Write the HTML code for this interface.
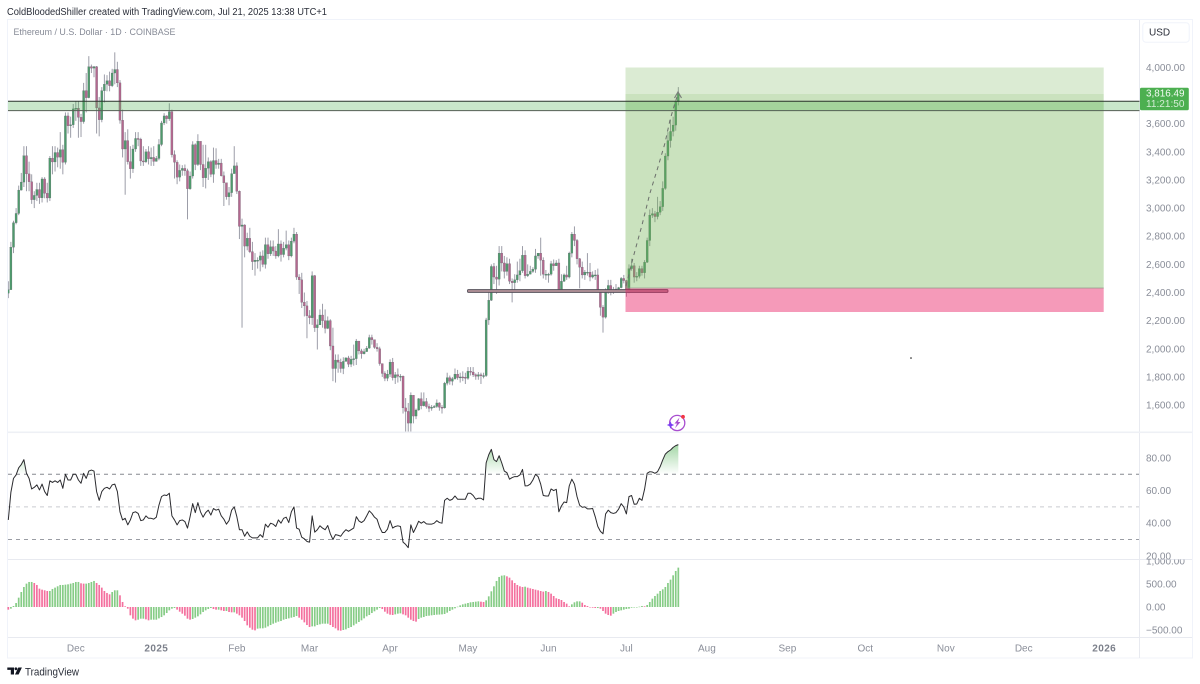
<!DOCTYPE html>
<html lang="en">
<head>
<meta charset="utf-8">
<title>Ethereum / U.S. Dollar chart</title>
<style>
html,body{margin:0;padding:0;background:#fff;width:1200px;height:684px;overflow:hidden}
svg{display:block}
text{font-family:"Liberation Sans",sans-serif}
</style>
</head>
<body>
<svg id="chart" xmlns="http://www.w3.org/2000/svg" width="1200" height="684" viewBox="0 0 1200 684">
  <defs>
    <clipPath id="clip-main"><rect x="8" y="20" width="1131.5" height="411.5"/></clipPath>
    <clipPath id="clip-rsi-axis"><rect x="1140" y="433" width="52" height="126.5"/></clipPath>
    <clipPath id="clip-hist-axis"><rect x="1140" y="559.5" width="52" height="78"/></clipPath>
    <clipPath id="clip-overbought"><rect x="8" y="433" width="1131" height="41.3"/></clipPath>
    <linearGradient id="rsi-fill" gradientUnits="userSpaceOnUse" x1="0" y1="445" x2="0" y2="474.3">
      <stop offset="0" stop-color="#4caf50" stop-opacity="0.5"/>
      <stop offset="1" stop-color="#4caf50" stop-opacity="0"/>
    </linearGradient>
  </defs>

  <text x="7" y="15" font-size="10" fill="#2a2e39" textLength="320" lengthAdjust="spacingAndGlyphs">ColdBloodedShiller created with TradingView.com, Jul 21, 2025 13:38 UTC+1</text>

  <rect x="7.5" y="19.5" width="1185" height="638.5" fill="#fff" stroke="#f0f3fa" stroke-width="1"/>
  <line x1="1139.5" y1="20" x2="1139.5" y2="658" stroke="#e8eaf0"/>
  <rect x="8" y="431.5" width="1184" height="1.6" fill="#eef0f5"/>
  <line x1="8" y1="559.5" x2="1192" y2="559.5" stroke="#e8eaf0"/>
  <line x1="8" y1="637.5" x2="1192" y2="637.5" stroke="#e8eaf0"/>

  <text x="13.5" y="35" font-size="9.5" fill="#868a96" textLength="162" lengthAdjust="spacingAndGlyphs">Ethereum / U.S. Dollar · 1D · COINBASE</text>

  <g id="candles" clip-path="url(#clip-main)"></g>

  <rect x="467.5" y="289.6" width="200.5" height="2.8" rx="1" fill="#a98b92" stroke="#55505a" stroke-width="0.9"/>

  <g>
    <rect x="625.5" y="67.5" width="478.2" height="26.5" fill="#6eaf50" fill-opacity="0.25"/>
    <rect x="625.5" y="94" width="478.2" height="193.8" fill="#6eaf50" fill-opacity="0.37"/>
    <rect x="625.5" y="288" width="478.2" height="24" fill="#e91e63" fill-opacity="0.45"/>
    <line x1="625.5" y1="288" x2="1103.7" y2="288" stroke="#8d9a84" stroke-width="0.8"/>
  </g>

  <g>
    <rect x="8" y="101.3" width="1131.5" height="9.3" fill="#4caf50" fill-opacity="0.3"/>
    <line x1="8" y1="101.3" x2="1139.5" y2="101.3" stroke="#2b332c" stroke-width="1"/>
    <line x1="8" y1="110.6" x2="1139.5" y2="110.6" stroke="#555f56" stroke-width="1"/>
  </g>

  <polyline points="626,286 633,258 642,225 650,193 658,167 665,143 670,120 675,103 678,94" fill="none" stroke="#6b6f6b" stroke-width="1" stroke-dasharray="4 4"/>
  <polyline points="674.5,98 678,92 681.5,98" fill="none" stroke="#7b807b" stroke-width="1.2"/>
  <circle cx="911" cy="358" r="0.8" fill="#111"/>

  <g>
    <circle cx="677.2" cy="423" r="7.6" fill="none" stroke="#a94fd0" stroke-width="1.3"/>
    <polygon points="679.5,417.5 674.5,423.5 677,423.5 675,428.2 680.5,422 678,422" fill="#a94fd0"/>
    <polygon points="670.5,421.3 671.6,423.9 674.2,425 671.6,426.1 670.5,428.7 669.4,426.1 666.8,425 669.4,423.9" fill="#7b3ff2"/>
    <circle cx="683" cy="416.8" r="1.9" fill="#f23645"/>
  </g>

  <g id="rsi-levels"></g>
  <path id="rsi-area" fill="url(#rsi-fill)" clip-path="url(#clip-overbought)"/>
  <path id="rsi-line" fill="none" stroke="#2b2b2f" stroke-width="1" stroke-linejoin="round"/>

  <g id="hist-bars"></g>

  <g id="price-axis"></g>
  <g id="rsi-axis" clip-path="url(#clip-rsi-axis)"></g>
  <g id="hist-axis" clip-path="url(#clip-hist-axis)"></g>
  <g id="time-axis"></g>

  <g>
    <rect x="1142.8" y="22.8" width="46.4" height="19.4" rx="3" fill="#fff" stroke="#f0f3fa"/>
    <text x="1149" y="35.6" font-size="10" fill="#2a2e39">USD</text>
  </g>

  <g>
    <rect x="1140" y="87.7" width="48.8" height="22.6" rx="1.5" fill="#4caf50"/>
    <text id="last-price" x="1146" y="96.6" font-size="10" fill="#f4fbf4" textLength="38.5" lengthAdjust="spacingAndGlyphs">3,816.49</text>
    <text x="1146" y="107" font-size="10" fill="#d4edd5" textLength="38.5" lengthAdjust="spacingAndGlyphs">11:21:50</text>
  </g>

  <g>
    <path d="M7.3 667.5H14V674.5H10.8V669.9H7.3Z" fill="#131722"/>
    <circle cx="15.9" cy="668.8" r="1.4" fill="#131722"/>
    <polygon points="18.3,667.5 21.9,667.5 18.6,674.5 15,674.5" fill="#131722"/>
    <text x="25" y="675.5" font-size="11" fill="#2a2e39" textLength="54" lengthAdjust="spacingAndGlyphs">TradingView</text>
  </g>
</svg>

<script>
// Daily bars, 5 Nov 2024 to 21 Jul 2025. One line per month.
const firstOpen = 2395;
const closes = [
  2420,2722,2896,2962,3128,3185,3372,3243,3187,3060,3090,3132,3073,3207,3105,3072,3355,3328,3395,3362,3415,3325,3655,3585,3592,3705,
  3710,3645,3615,3835,3785,4005,3995,4005,3712,3628,3835,3880,3905,3870,3960,3985,3890,3625,3420,3480,3330,3280,3420,3495,3490,3335,3330,3400,3350,3360,3332,
  3353,3452,3605,3655,3635,3685,3380,3325,3220,3268,3282,3265,3137,3228,3450,3310,3475,3310,3215,3283,3330,3240,3338,3310,3320,3230,3180,3080,3110,3245,3300,
  3120,2870,2880,2730,2785,2690,2620,2630,2630,2660,2600,2740,2675,2725,2695,2660,2745,2670,2715,2740,2660,2765,2815,2510,2490,2330,2305,2235,
  2220,2520,2150,2170,2240,2200,2145,2200,2020,1860,1920,1905,1860,1910,1935,1890,1925,1930,2055,1985,1965,1980,2005,2080,2065,2010,2000,1895,1825,1790,1820,
  1905,1795,1815,1805,1805,1580,1555,1472,1670,1522,1565,1645,1595,1625,1590,1577,1585,1590,1615,1585,1580,1755,1795,1770,1787,1820,1795,1800,1798,1790,
  1840,1835,1815,1805,1815,1810,1810,2205,2345,2585,2510,2495,2680,2610,2550,2605,2480,2470,2490,2525,2555,2665,2520,2530,2550,2565,2660,2680,2630,2530,2530,
  2530,2605,2590,2610,2415,2480,2525,2510,2680,2815,2770,2640,2580,2525,2545,2545,2510,2525,2525,2410,2295,2225,2415,2450,2420,2415,2425,2435,2500,2485,
  2405,2570,2590,2510,2515,2570,2540,2615,2770,2950,2960,2940,2970,3010,3140,3370,3480,3545,3590,3755,3816
];
const highs = [
  2480,2760,2910,3000,3160,3250,3440,3440,3330,3240,3120,3180,3180,3220,3220,3180,3370,3440,3440,3430,3540,3450,3680,3680,3650,3740,
  3760,3760,3670,3890,3960,4080,4020,4010,4010,3790,3860,3950,3945,3970,3990,4107,4040,3910,3700,3540,3560,3440,3450,3540,3540,3500,3440,3420,3440,3430,3440,
  3370,3490,3620,3675,3660,3745,3700,3410,3340,3310,3305,3310,3280,3260,3475,3460,3525,3450,3450,3450,3360,3340,3430,3425,3350,3350,3260,3170,3150,3280,3440,
  3325,3125,2925,2885,2825,2860,2760,2680,2650,2690,2700,2790,2790,2770,2770,2730,2850,2770,2760,2840,2770,2790,2860,2830,2530,2540,2400,2340,
  2275,2550,2525,2210,2280,2320,2280,2230,2210,2150,1960,1960,1930,1940,1940,1950,1950,2030,2070,2000,2000,2000,2020,2100,2100,2060,2040,2015,1895,1840,1850,
  1925,1935,1835,1860,1820,1810,1650,1615,1690,1670,1575,1650,1690,1690,1650,1610,1600,1600,1640,1620,1600,1765,1830,1810,1800,1860,1850,1830,1840,1830,
  1870,1870,1870,1825,1835,1830,1830,2220,2400,2600,2610,2590,2730,2730,2660,2650,2640,2500,2530,2620,2640,2730,2700,2600,2590,2580,2710,2680,2790,2650,2560,
  2540,2625,2635,2630,2640,2530,2535,2590,2690,2830,2870,2780,2645,2620,2560,2680,2610,2550,2560,2570,2420,2310,2430,2490,2490,2440,2460,2440,2510,2525,
  2490,2600,2640,2610,2545,2590,2590,2630,2790,2990,3000,2980,3080,3050,3190,3390,3540,3630,3650,3760,3860
];
const lows = [
  2360,2420,2680,2885,2950,3125,3150,3120,3120,3030,3000,3050,3030,3040,3070,3040,3050,3240,3260,3290,3280,3240,3310,3530,3500,3570,
  3620,3500,3505,3600,3680,3780,3960,3930,3530,3510,3610,3750,3830,3830,3860,3880,3860,3600,3360,3095,3310,3210,3250,3400,3440,3300,3300,3320,3310,3300,3300,
  3330,3340,3440,3590,3600,3620,3360,3210,3170,3190,3230,3230,2920,3130,3210,3270,3300,3270,3150,3140,3200,3220,3180,3280,3280,3225,3015,3060,3020,3080,3260,
  3100,2780,2150,2650,2700,2680,2560,2520,2570,2550,2580,2570,2640,2660,2660,2640,2650,2620,2650,2700,2630,2650,2750,2490,2390,2290,2230,2075,
  2175,2170,2120,1995,2170,2150,2110,2140,1990,1770,1760,1830,1830,1820,1910,1870,1870,1880,1885,1960,1930,1960,1980,2000,2030,2000,1980,1880,1800,1770,1770,
  1800,1775,1750,1760,1770,1540,1410,1385,1410,1470,1500,1560,1570,1590,1575,1550,1560,1580,1580,1560,1540,1575,1740,1745,1740,1780,1780,1760,1770,1750,
  1780,1810,1800,1780,1780,1750,1790,1800,2170,2340,2460,2390,2450,2550,2500,2520,2460,2330,2400,2470,2480,2540,2500,2510,2530,2540,2540,2640,2520,2500,2490,
  2470,2520,2555,2590,2400,2400,2475,2490,2500,2650,2730,2600,2430,2500,2490,2520,2480,2500,2490,2400,2235,2115,2215,2390,2380,2390,2400,2410,2430,2465,
  2370,2395,2555,2470,2480,2500,2520,2500,2610,2730,2930,2900,2920,2950,2980,3130,3340,3430,3510,3550,3730
];
const rsiValues = [
  42,59,67.5,69.6,74,76,79,70.6,67.5,61,62,63.5,60.4,64,59.4,57,66,65,66,65,66.5,61.4,70,66.5,66.5,70,
  70,66.5,64.5,70.6,67.5,72,72.6,72,59.4,54,59.4,61.4,62,61,63.5,64,59.4,47,42,43,39,42,46.5,47,46,41.6,42,44.5,43,43,42.5,
  43.7,51,56.3,57.3,57,58.4,44.5,42,39,41.6,42,41,37,44,52,46.5,52.6,47,43.7,46.5,48,45,49,48,48.6,44.5,42.5,39.4,41.6,48,50,
  44,36,36,32,34.7,32,31,31,31,33,31.4,39.4,37.5,40,39.4,38,42,40,43,43.7,40.4,47,50,37,36.3,31.4,30.4,28.8,
  28.4,44.5,34.5,36,38.4,37,36,38.6,33.5,30,33,32.6,32,34.3,36,35,36,37,44,41.4,40.4,41.6,44.5,47.6,46,43.7,42.4,37.5,34.3,34.3,36.3,
  41.6,37,38,38.4,38,28.4,27,25,39,34.3,37.5,41.2,40,41,39.6,39.4,39.4,40,41.6,40.4,40,54,55.3,54,54.7,56.7,54.7,54.7,54.7,54.7,
  58.4,58.4,57,54.7,55.3,55.3,54.3,77,82,85.3,79,77.8,81.4,77,72,71,67,68,68.6,68.6,69.6,73,62.9,63,64,66.5,70,68.6,64,57,56.7,
  56.7,61,60,60.8,47,50.6,53,52.6,62.9,67,64,56.3,51,49.8,50,48.8,48.8,49,44,38,35,33.5,45.7,48,46.5,46,46.5,48.6,52,50,
  45.7,56.3,57,51.6,51.8,55.3,54,60.8,70.6,71.6,71.4,70.6,71.6,74.7,78.8,82.4,83.9,84.9,86.5,87.6,88.2
];
const histValues = [
  -58,-36,22,87,203,326,435,508,544,544,522,479,399,377,363,348,348,392,421,450,479,479,486,493,508,522,
  544,544,515,508,508,522,544,566,522,479,421,348,305,276,326,363,363,254,109,15,-36,-181,-254,-290,-276,-254,-254,-268,-290,-276,-276,
  -276,-247,-218,-181,-131,-73,-36,-22,-58,-102,-145,-189,-254,-276,-261,-232,-203,-160,-109,-73,-44,-22,-44,-58,-58,-73,-87,-87,-109,-116,-116,
  -145,-181,-232,-305,-399,-450,-493,-508,-471,-464,-464,-450,-421,-392,-363,-341,-319,-305,-276,-261,-247,-232,-218,-196,-232,-276,-334,-392,
  -435,-421,-421,-392,-377,-363,-363,-363,-392,-435,-464,-508,-515,-500,-486,-457,-435,-399,-363,-326,-290,-247,-203,-174,-131,-94,-58,-22,-44,-102,-145,
  -167,-174,-160,-145,-138,-160,-181,-232,-276,-305,-319,-261,-232,-218,-196,-189,-181,-174,-167,-165,-160,-152,-123,-87,-58,-29,7,36,58,73,
  87,102,109,116,123,116,109,145,232,341,450,566,653,682,689,667,638,580,522,479,450,435,442,421,406,392,377,363,348,334,348,
  326,290,239,189,174,152,109,73,15,58,102,123,123,94,44,22,0,-15,-22,-22,-36,-87,-145,-174,-189,-145,-109,-87,-73,-58,
  -44,-36,-15,-7,0,7,22,15,44,109,181,239,290,348,384,435,522,595,689,783,856
];
const priceTicks = [4000,3600,3400,3200,3000,2800,2600,2400,2200,2000,1800,1600];
const rsiTicks = [80,60,40,20];
const rsiLevels = [70,50,30];
const rsiLevelColors = ['#85888f','#c9cbd0','#9a9da4'];
const histTicks = [1000,500,0,-500];
const timeLabels = ['Dec','2025','Feb','Mar','Apr','May','Jun','Jul','Aug','Sep','Oct','Nov','Dec','2026'];
const timeOffsets = [26,57,88,116,147,177,208,238,269,300,330,361,391,422];
const timeBold = ['2025','2026'];

const SVGNS = 'http://www.w3.org/2000/svg';
function xAt(i){ return 8.3 + 2.597 * i; }
function priceY(p){ return 67.4 + (4000 - p) * 0.1407; }
function rsiY(v){ return 458 + (80 - v) * 1.63; }
function histY(v){ return 607 - v * 0.046; }
function fmt(v){
  const s = Math.abs(v).toFixed(2).replace(/\B(?=(\d{3})+(?!\d))/g, ',');
  return (v < 0 ? '\u2212' : '') + s;
}
function make(tag, attrs, parent){
  const el = document.createElementNS(SVGNS, tag);
  for (const k in attrs) el.setAttribute(k, attrs[k]);
  parent.appendChild(el);
  return el;
}

// Candles
const candleGroup = document.getElementById('candles');
closes.forEach(function(c, i){
  const o = i === 0 ? firstOpen : closes[i - 1];
  const up = c >= o;
  const x = xAt(i);
  const wick = make('line', {x1:x, x2:x, y1:priceY(highs[i]), y2:priceY(lows[i]), stroke:'#9c9da8', 'stroke-width':1}, candleGroup);
  
  
  const top = priceY(Math.max(o, c));
  const h = Math.max(1, Math.abs(priceY(o) - priceY(c)));
  const body = make('rect', {x:x - 1.05, y:top, width:2.1, height:h, fill:up ? '#4e9a6c' : '#b4688f', stroke:'#5d6168', 'stroke-width':0.25}, candleGroup);
  
  
});

// RSI levels
const levelGroup = document.getElementById('rsi-levels');
rsiLevels.forEach(function(v, i){
  const l = make('line', {x1:8, x2:1139, y1:rsiY(v), y2:rsiY(v), stroke:rsiLevelColors[i], 'stroke-width':1, 'stroke-dasharray':'4 4'}, levelGroup);
  
  
});

// RSI line and overbought fill
const rsiPts = rsiValues.map(function(v, i){ return xAt(i).toFixed(2) + ' ' + rsiY(v).toFixed(2); });
document.getElementById('rsi-line').setAttribute('d', 'M' + rsiPts.join('L'));
document.getElementById('rsi-area').setAttribute('d', 'M' + xAt(0).toFixed(2) + ' ' + rsiY(70) + 'L' + rsiPts.join('L') + 'L' + xAt(rsiValues.length - 1).toFixed(2) + ' ' + rsiY(70) + 'Z');

// MACD histogram: colour follows the change from the previous bar
const histGroup = document.getElementById('hist-bars');
histValues.forEach(function(v, i){
  const rising = i === 0 ? v > 0 : v >= histValues[i - 1];
  const y0 = histY(0), y1 = histY(v);
  const bar = make('rect', {x:xAt(i) - 0.85, y:Math.min(y0, y1), width:1.7, height:Math.max(0.5, Math.abs(y1 - y0)), fill:rising ? '#86cc86' : '#f4709e'}, histGroup);
  
  
});

// Axes
const priceAxis = document.getElementById('price-axis');
priceTicks.forEach(function(p){
  const t = make('text', {x:1146, y:priceY(p) + 3.5, 'font-size':10, fill:'#8a8e99'}, priceAxis);
  
  
  t.textContent = fmt(p);
});
const rsiAxis = document.getElementById('rsi-axis');
rsiTicks.forEach(function(v){
  const t = make('text', {x:1146, y:rsiY(v) + 3.5, 'font-size':10, fill:'#8a8e99'}, rsiAxis);
  
  
  t.textContent = fmt(v);
});
const histAxis = document.getElementById('hist-axis');
histTicks.forEach(function(v){
  const t = make('text', {x:1146, y:histY(v) + 3.5, 'font-size':10, fill:'#8a8e99'}, histAxis);
  
  
  t.textContent = fmt(v);
});
const timeAxis = document.getElementById('time-axis');
timeLabels.forEach(function(label, i){
  const bold = timeBold.indexOf(label) >= 0;
  const t = make('text', {x:xAt(timeOffsets[i]), y:651.5, 'font-size':10, 'text-anchor':'middle', fill:bold ? '#7c808b' : '#8a8e99', 'font-weight':bold ? 'bold' : 'normal', 'letter-spacing':bold ? '0.4' : '0'}, timeAxis);
  
  
  t.textContent = label;
});
document.getElementById('last-price').textContent = fmt(closes[closes.length - 1] + 0.49);
</script>
</body>
</html>
